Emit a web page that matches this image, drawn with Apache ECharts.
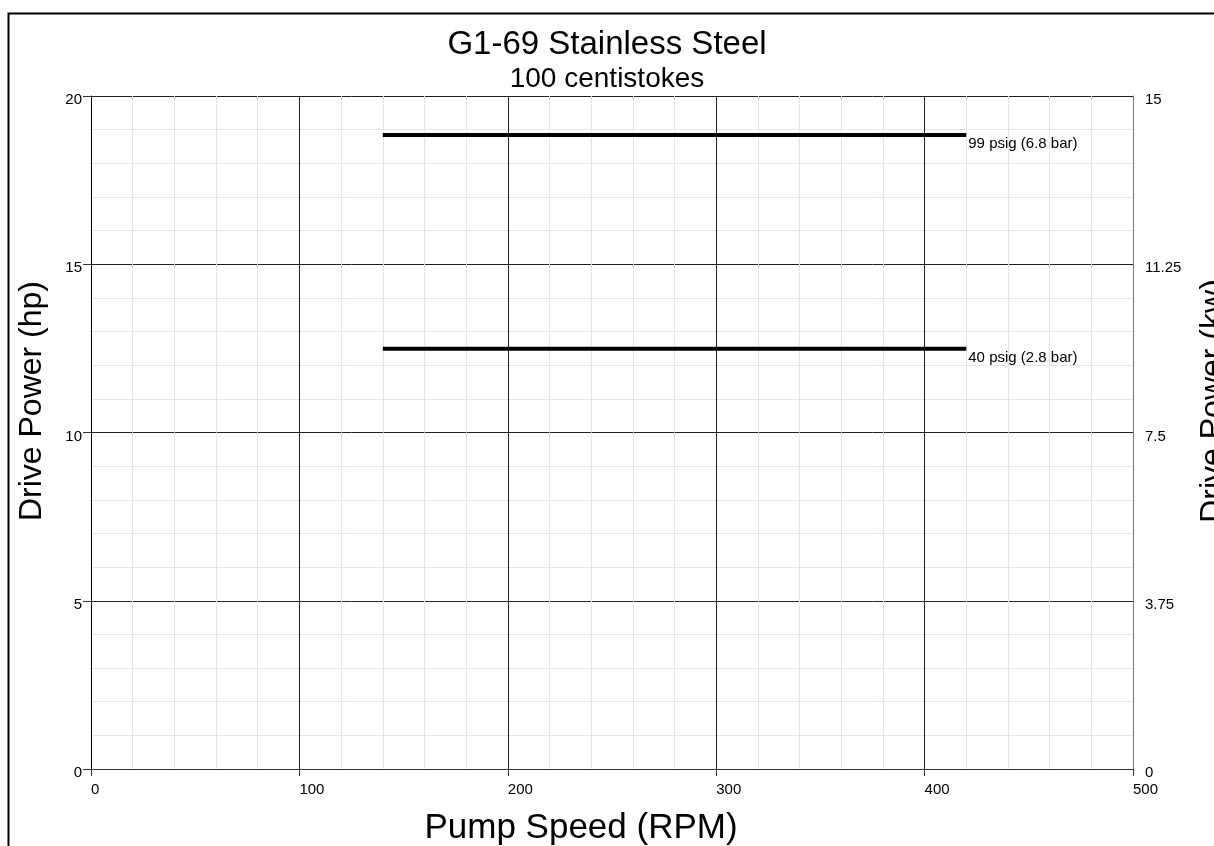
<!DOCTYPE html>
<html>
<head>
<meta charset="utf-8">
<title>G1-69 Stainless Steel</title>
<script src="https://cdn.jsdelivr.net/npm/echarts@6/dist/echarts.min.js"></script>
<style>
  html, body { margin: 0; padding: 0; background: #fff; }
  #chart { width: 1214px; height: 846px; }
</style>
</head>
<body>
<div id="chart"></div>
<script>
// pump speed (RPM) where the curves start and end
var speedRpm = [140, 420];
// drive power (hp) for each pressure
var power99psig = [18.84, 18.84];
var power40psig = [12.49, 12.49];
var seriesNames = ['99 psig (6.8 bar)', '40 psig (2.8 bar)'];
// right axis ticks (kw)
var kwTicks = [0, 3.75, 7.5, 11.25, 15];

function pairs(xs, ys) {
  return xs.map(function (x, i) { return [x, ys[i]]; });
}

var chart = echarts.init(document.getElementById('chart'));
var font = 'Liberation Sans, Arial, sans-serif';

chart.setOption({
  animation: false,
  title: {
    text: 'G1-69 Stainless Steel',
    subtext: '100 centistokes',
    left: 'center',
    top: 23,
    itemGap: 4,
    textStyle: { fontFamily: font, fontSize: 33, fontWeight: 'normal', color: '#000' },
    subtextStyle: { fontFamily: font, fontSize: 28, color: '#000' }
  },
  grid: { left: 91, right: 81, top: 96, bottom: 77 },
  graphic: [
    {
      type: 'rect', left: 6, top: 11, silent: true,
      shape: { width: 1300, height: 900 },
      style: { fill: 'none', stroke: '#000', lineWidth: 2 }
    },
    {
      type: 'text', x: 16, y: 401, rotation: Math.PI / 2, silent: true,
      style: { text: 'Drive Power (hp)', font: '32px ' + font, fill: '#000', align: 'center', verticalAlign: 'top' }
    },
    {
      type: 'text', x: 1197, y: 401, rotation: Math.PI / 2, silent: true,
      style: { text: 'Drive Power (kw)', font: '32px ' + font, fill: '#000', align: 'center', verticalAlign: 'top' }
    },
    {
      type: 'text', x: 581, y: 811, silent: true,
      style: { text: 'Pump Speed (RPM)', font: '35px ' + font, fill: '#000', align: 'center', verticalAlign: 'top' }
    }
  ],
  xAxis: {
    type: 'value',
    min: 0,
    max: 500,
    interval: 100,
    axisLine: { show: true, onZero: false, lineStyle: { color: '#333', width: 1 } },
    axisTick: { show: true, length: 7, lineStyle: { color: '#333' } },
    axisLabel: { fontFamily: font, fontSize: 15, color: '#000', margin: 13, align: 'left' },
    splitLine: { show: true, lineStyle: { color: '#222', width: 1 } },
    minorTick: { show: false, splitNumber: 5 },
    minorSplitLine: { show: true, lineStyle: { color: '#e6e6e6', width: 1 } }
  },
  yAxis: [
    {
      type: 'value',
      min: 0,
      max: 20,
      interval: 5,
      axisLine: { show: true, lineStyle: { color: '#000', width: 1 } },
      axisTick: { show: true, length: 8, lineStyle: { color: '#333' } },
      axisLabel: { fontFamily: font, fontSize: 15, color: '#000', margin: 9, verticalAlign: 'top', lineHeight: 8 },
      splitLine: { show: true, lineStyle: { color: '#222', width: 1 } },
      minorTick: { show: false, splitNumber: 5 },
      minorSplitLine: { show: true, lineStyle: { color: '#e6e6e6', width: 1 } }
    },
    {
      type: 'value',
      position: 'right',
      min: kwTicks[0],
      max: kwTicks[kwTicks.length - 1],
      interval: kwTicks[1] - kwTicks[0],
      axisLine: { show: true, lineStyle: { color: '#777', width: 1 } },
      axisTick: { show: false },
      axisLabel: { fontFamily: font, fontSize: 15, color: '#000', margin: 12, verticalAlign: 'top', lineHeight: 8 },
      splitLine: { show: false }
    }
  ],
  series: [
    {
      name: seriesNames[0],
      type: 'line',
      data: pairs(speedRpm, power99psig),
      symbol: 'none',
      lineStyle: { color: '#000', width: 4 },
      endLabel: { show: true, formatter: '{a}', fontFamily: font, fontSize: 15, color: '#000', distance: 2, offset: [0, 9] }
    },
    {
      name: seriesNames[1],
      type: 'line',
      data: pairs(speedRpm, power40psig),
      symbol: 'none',
      lineStyle: { color: '#000', width: 4 },
      endLabel: { show: true, formatter: '{a}', fontFamily: font, fontSize: 15, color: '#000', distance: 2, offset: [0, 9] }
    }
  ]
});
</script>
</body>
</html>
